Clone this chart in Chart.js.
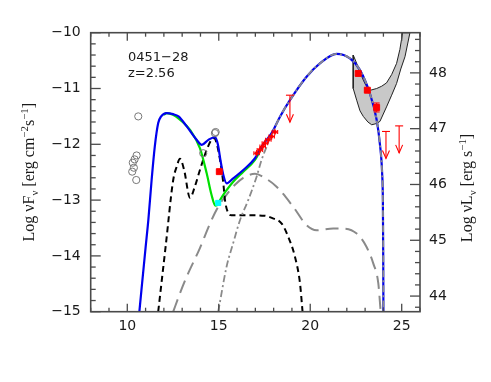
<!DOCTYPE html>
<html lang="en">
<head>
<meta charset="UTF-8">
<title>0451-28 SED</title>
<script src="https://cdn.jsdelivr.net/npm/chart.js"></script>
<style>
    body { margin: 0; background: #fff; }
    #wrap { width: 491px; height: 382px; }
</style>
</head>
<body>
<div id="wrap"><canvas id="sed" width="491" height="382"></canvas></div>
<script>
// x = log nu [Hz], y = log nuFnu [erg cm^-2 s^-1]
const totalX = [10.66, 11.0, 11.15, 11.33, 11.5, 11.69, 11.85, 12.15, 12.5, 12.8, 13.25, 13.79, 14.07, 14.43, 14.79, 14.95, 15.1, 15.25, 15.43, 15.79, 16.34, 16.98, 17.34, 17.89, 18.34, 18.89, 19.8, 20.53, 21.44, 22.17, 22.72, 23.26, 23.63, 23.81, 23.93, 23.97, 23.99, 24.0];
const totalY = [-15, -13.85, -13.36, -12.64, -12.05, -11.62, -11.5, -11.44, -11.46, -11.5, -11.68, -11.92, -12.01, -11.92, -11.87, -12.0, -12.3, -12.55, -12.7, -12.61, -12.46, -12.25, -12.04, -11.8, -11.51, -11.21, -10.79, -10.55, -10.38, -10.46, -10.67, -11.09, -11.56, -12.0, -12.52, -13.0, -14.0, -15];

const greenX = [12.0, 12.15, 12.5, 12.88, 13.43, 13.97, 14.34, 14.6, 14.82, 14.97, 15.07, 15.43, 15.79, 16.34, 16.98, 17.34];
const greenY = [-11.47, -11.44, -11.47, -11.56, -11.74, -12.07, -12.52, -12.9, -13.1, -13.07, -13.0, -12.82, -12.67, -12.49, -12.28, -12.06];

const diskX = [11.69, 12.1, 12.51, 12.7, 12.88, 13.1, 13.43, 13.7, 13.97, 14.34, 14.6, 14.75, 14.9, 15.07, 15.25, 15.34, 15.5, 15.7, 16.5, 17.5, 17.9, 18.44, 18.8, 19.16, 19.44, 19.58];
const diskY = [-15, -13.82, -12.64, -12.4, -12.26, -12.45, -12.96, -12.75, -12.46, -12.1, -11.92, -11.89, -12.0, -12.28, -12.7, -13.0, -13.22, -13.27, -13.27, -13.28, -13.32, -13.42, -13.66, -14.01, -14.49, -15];

const sscX = [12.51, 12.88, 13.25, 13.97, 14.52, 14.97, 15.43, 15.9, 16.34, 16.98, 17.5, 18.16, 19.07, 19.8, 20.35, 21.26, 21.8, 22.54, 23.08, 23.44, 23.72, 23.85];
const sscY = [-15, -14.67, -14.37, -13.86, -13.42, -13.12, -12.9, -12.72, -12.6, -12.53, -12.6, -12.76, -13.12, -13.45, -13.54, -13.51, -13.51, -13.6, -13.84, -14.13, -14.49, -15];

const ecX = [14.97, 15.43, 15.79, 16.16, 16.61, 17.07, 17.34, 17.62, 17.89, 18.34, 18.89, 19.8, 20.53, 21.44, 22.17, 22.72, 23.26, 23.63, 23.81, 23.93, 23.97, 23.99, 24.0];
const ecY = [-15, -14.19, -13.77, -13.36, -13.0, -12.58, -12.28, -12.04, -11.83, -11.51, -11.21, -10.79, -10.55, -10.38, -10.46, -10.67, -11.09, -11.56, -12.0, -12.52, -13.0, -14.0, -15];

// Fermi butterfly outline
const bowX = [22.35, 22.35, 22.54, 22.72, 22.9, 23.15, 23.36, 23.6, 23.81, 24.17, 24.45, 24.72, 24.95, 25.18, 25.45, 25.05, 24.9, 24.72, 24.45, 24.17, 23.9, 23.63, 23.3, 23.05, 22.9, 22.7, 22.54, 22.35];
const bowY = [-10.4, -11.0, -11.21, -11.4, -11.5, -11.6, -11.65, -11.63, -11.59, -11.33, -11.12, -10.91, -10.65, -10.43, -10.0, -10.0, -10.3, -10.55, -10.75, -10.9, -10.96, -11.0, -11.03, -10.95, -10.85, -10.69, -10.55, -10.4];

const archX = [10.6, 10.51, 10.4, 10.3, 10.36, 10.27, 10.49, 14.15, 14.79, 14.83];
const archY = [-11.5, -12.2, -12.27, -12.33, -12.42, -12.49, -12.64, -12.16, -11.8, -11.78];

const optX = [15.03];
const optY = [-12.49];
const uvX = [14.97];
const uvY = [-13.05];

const xrayX = [17.07, 17.25, 17.4, 17.52, 17.71, 17.89, 18.07];
const xrayY = [-12.16, -12.1, -12.04, -11.98, -11.92, -11.86, -11.78];
const xrayDx = [0.15, 0.15, 0.15, 0.15, 0.15, 0.15, 0.15];
const xrayDy = [0.06, 0.06, 0.06, 0.06, 0.06, 0.06, 0.06];

const gamX = [22.62, 23.12, 23.63];
const gamY = [-10.73, -11.03, -11.34];
const gamDy = [0.03, 0.03, 0.08];

const ulX = [18.89, 24.14, 24.86];
const ulY = [-11.12, -11.77, -11.67];

const xTicks = [10, 15, 20, 25];
const lumTicks = [44, 45, 46, 47, 48];
const lumOffset = 58.72; // log nuL = log nuF + offset

function xy(xs, ys) {
    return xs.map((x, i) => ({ x: x, y: ys[i] }));
}

function curve(xs, ys, color, width, dash, order) {
    return {
        data: xy(xs, ys),
        borderColor: color,
        borderWidth: width,
        borderDash: dash,
        pointRadius: 0,
        cubicInterpolationMode: 'monotone',
        fill: false,
        order: order
    };
}

function points(xs, ys, style, r, fillCol, lineCol, order) {
    return {
        data: xy(xs, ys),
        showLine: false,
        pointStyle: style,
        pointRadius: r,
        pointBackgroundColor: fillCol,
        pointBorderColor: lineCol,
        pointBorderWidth: 1,
        order: order
    };
}

function seg(ctx, x1, y1, x2, y2) {
    ctx.beginPath();
    ctx.moveTo(x1, y1);
    ctx.lineTo(x2, y2);
    ctx.stroke();
}

// sub/superscript text run, drawn centred at origin along baseline
function richText(ctx, parts, size) {
    let total = 0;
    parts.forEach(p => {
        ctx.font = (p[1] ? size * 0.68 : size) + 'px "Liberation Serif", serif';
        p.w = ctx.measureText(p[0]).width;
        total += p.w;
    });
    let x = -total / 2;
    parts.forEach(p => {
        ctx.font = (p[1] ? size * 0.68 : size) + 'px "Liberation Serif", serif';
        const dy = p[1] === 'sub' ? size * 0.25 : p[1] === 'sup' ? -size * 0.4 : 0;
        ctx.fillText(p[0], x, dy);
        x += p.w;
    });
}

const decor = {
    id: 'decor',
    afterDatasetsDraw(chart) {
        const ctx = chart.ctx;
        const sx = chart.scales.x, sy = chart.scales.y;
        ctx.save();
        ctx.strokeStyle = '#ff0000';
        ctx.lineWidth = 1.1;
        // X-ray error bars
        xrayX.forEach((x, i) => {
            const px = sx.getPixelForValue(x), py = sy.getPixelForValue(xrayY[i]);
            const x1 = sx.getPixelForValue(x - xrayDx[i]), x2 = sx.getPixelForValue(x + xrayDx[i]);
            const y1 = sy.getPixelForValue(xrayY[i] - xrayDy[i]), y2 = sy.getPixelForValue(xrayY[i] + xrayDy[i]);
            seg(ctx, x1, py, x2, py);
            seg(ctx, px, y1, px, y2);
            seg(ctx, x1, py - 2, x1, py + 2);
            seg(ctx, x2, py - 2, x2, py + 2);
        });
        // gamma error bars
        gamX.forEach((x, i) => {
            const px = sx.getPixelForValue(x);
            const y1 = sy.getPixelForValue(gamY[i] - gamDy[i]), y2 = sy.getPixelForValue(gamY[i] + gamDy[i]);
            seg(ctx, px, y1, px, y2);
            seg(ctx, px - 3, y1, px + 3, y1);
            seg(ctx, px - 3, y2, px + 3, y2);
        });
        // upper limits
        ulX.forEach((x, i) => {
            const px = sx.getPixelForValue(x), py = sy.getPixelForValue(ulY[i]);
            const tip = py + 27;
            seg(ctx, px - 4, py, px + 4, py);
            seg(ctx, px, py, px, tip);
            ctx.beginPath();
            ctx.moveTo(px - 3.5, tip - 8);
            ctx.lineTo(px, tip);
            ctx.lineTo(px + 3.5, tip - 8);
            ctx.stroke();
        });
        ctx.restore();
    },
    afterDraw(chart) {
        const ctx = chart.ctx;
        const a = chart.chartArea;
        const sx = chart.scales.x, sy = chart.scales.y, sy2 = chart.scales.y2;
        ctx.save();
        ctx.strokeStyle = '#4a4a4a';
        ctx.lineWidth = 1.3;
        for (let v = 8; v <= 26; v++) {
            const px = sx.getPixelForValue(v);
            const len = v % 5 === 0 ? 8 : 4;
            seg(ctx, px, a.bottom, px, a.bottom - len);
            seg(ctx, px, a.top, px, a.top + len);
        }
        for (let i = 0; i <= 25; i++) {
            const py = sy.getPixelForValue(-15 + i * 0.2);
            seg(ctx, a.left, py, a.left + (i % 5 === 0 ? 10 : 5), py);
        }
        for (let i = 0; i <= 24; i++) {
            const v = 43.8 + i * 0.2;
            const py = sy2.getPixelForValue(v);
            const major = Math.abs(v - Math.round(v)) < 1e-6;
            seg(ctx, a.right, py, a.right - (major ? 10 : 5), py);
        }
        ctx.lineWidth = 1.6;
        ctx.strokeRect(a.left, a.top, a.right - a.left, a.bottom - a.top);

        ctx.fillStyle = '#1a1a1a';
        ctx.textBaseline = 'alphabetic';
        ctx.textAlign = 'left';
        ctx.font = '13px "DejaVu Sans", sans-serif';
        ctx.fillText('0451\u221228', 128, 61);
        ctx.fillText('z=2.56', 128, 77);

        ctx.save();
        ctx.translate(34, (a.top + a.bottom) / 2);
        ctx.rotate(-Math.PI / 2);
        richText(ctx, [['Log \u03BDF'], ['\u03BD', 'sub'], [' [erg cm'], ['\u22122', 'sup'], ['s'], ['\u22121', 'sup'], [']']], 16);
        ctx.restore();

        ctx.save();
        ctx.translate(472, 188);
        ctx.rotate(-Math.PI / 2);
        richText(ctx, [['Log \u03BDL'], ['\u03BD', 'sub'], [' [erg s'], ['\u22121', 'sup'], [']']], 16);
        ctx.restore();
        ctx.restore();
    }
};

const tickFont = { family: '"DejaVu Sans", sans-serif', size: 14 };
const minus = v => (v < 0 ? '\u2212' + Math.abs(v) : String(v));

new Chart(document.getElementById('sed'), {
    type: 'line',
    data: {
        datasets: [
            points(optX, optY, 'rect', 4.2, '#ff0000', '#ff0000', 0),
            points(gamX, gamY, 'rect', 4.2, '#ff0000', '#ff0000', 0),
            points(xrayX, xrayY, 'rect', 1.8, '#ff0000', '#ff0000', 0),
            points(uvX, uvY, 'rect', 3.6, '#00ffff', '#00ffff', 1),
            points(archX, archY, 'circle', 3.6, 'rgba(0,0,0,0)', '#777777', 2),
            curve(ecX, ecY, '#8a8a8a', 1.8, [7, 3, 2, 3], 5),
            curve(totalX, totalY, '#0000ee', 2.2, [], 6),
            curve(greenX, greenY, '#00e000', 2.2, [], 7),
            curve(diskX, diskY, '#000000', 2, [6, 4], 8),
            curve(sscX, sscY, '#8a8a8a', 2, [13, 7], 9),
            {
                data: xy(bowX, bowY),
                borderColor: '#222222',
                borderWidth: 1,
                backgroundColor: '#c8c8c8',
                fill: 'shape',
                pointRadius: 0,
                tension: 0,
                order: 10
            }
        ]
    },
    options: {
        responsive: false,
        animation: false,
        devicePixelRatio: 1,
        layout: { padding: { top: 32.7, left: 0, right: 0, bottom: 0 } },
        plugins: { legend: { display: false }, tooltip: { enabled: false } },
        scales: {
            x: {
                type: 'linear',
                min: 8,
                max: 26,
                grid: { display: false, drawTicks: false },
                border: { display: false },
                afterBuildTicks: s => { s.ticks = xTicks.map(v => ({ value: v })); },
                afterFit: s => { s.height = 70.3; },
                ticks: { font: tickFont, color: '#1a1a1a', padding: 6, maxRotation: 0, callback: v => String(v) }
            },
            y: {
                type: 'linear',
                position: 'left',
                min: -15,
                max: -10,
                grid: { display: false, drawTicks: false },
                border: { display: false },
                afterBuildTicks: s => { s.ticks = [-15, -14, -13, -12, -11, -10].map(v => ({ value: v })); },
                afterFit: s => { s.width = 90.7; },
                ticks: { font: tickFont, color: '#1a1a1a', padding: 10, callback: minus }
            },
            y2: {
                type: 'linear',
                position: 'right',
                min: -15 + lumOffset,
                max: -10 + lumOffset,
                grid: { display: false, drawTicks: false },
                border: { display: false },
                afterBuildTicks: s => { s.ticks = lumTicks.map(v => ({ value: v })); },
                afterFit: s => { s.width = 71; },
                ticks: { font: tickFont, color: '#1a1a1a', padding: 9, callback: v => String(v) }
            }
        }
    },
    plugins: [decor]
});
</script>
</body>
</html>
